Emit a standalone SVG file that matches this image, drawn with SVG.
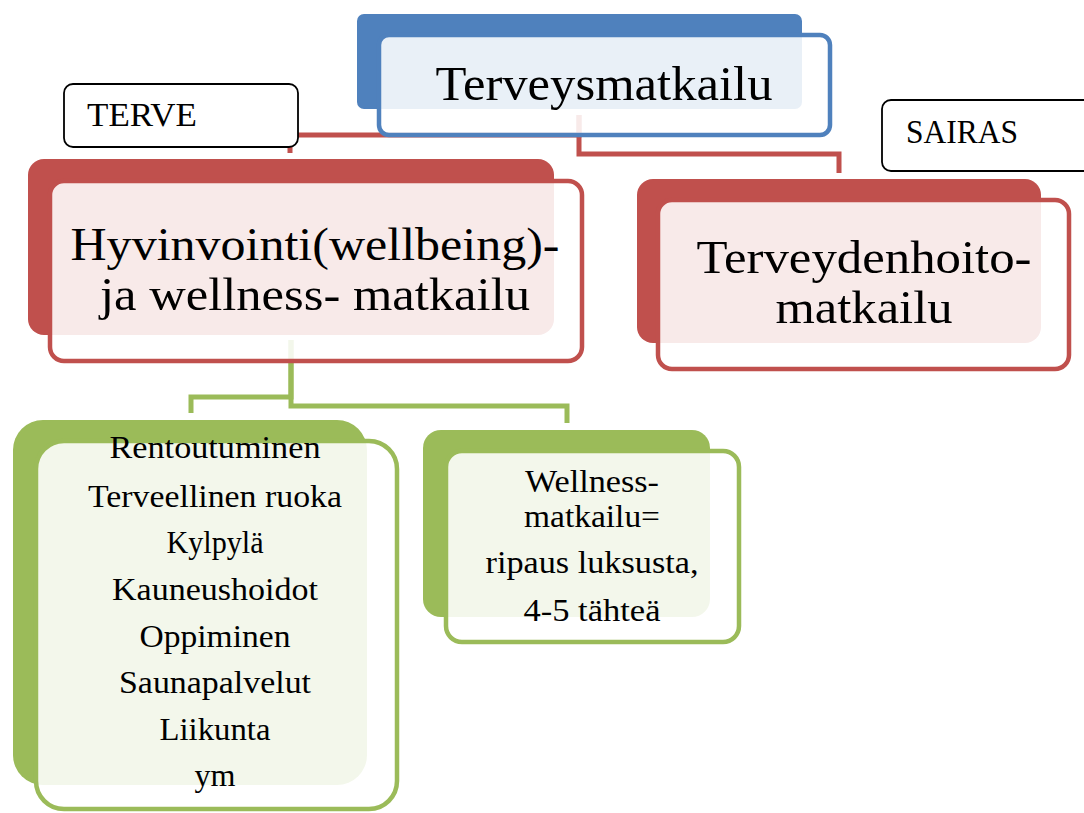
<svg xmlns="http://www.w3.org/2000/svg" width="1084" height="813" viewBox="0 0 1084 813">
<style>
text{font-family:"Liberation Serif","DejaVu Serif",serif;fill:#000;text-anchor:middle}
.cr{fill:none;stroke:#C0504D;stroke-width:5}
.cg{fill:none;stroke:#9BBB59;stroke-width:5}
.fr{fill:#fff;fill-opacity:0.88;stroke-width:4.5}
.lab{fill:#fff;stroke:#000;stroke-width:1.8}
.lt{text-anchor:start;font-size:33px}
</style>
<g id="connectors">
<path class="cr" d="M579,115 V135 H290 V153"/>
<path class="cr" d="M579,115 V154 H839 V173"/>
<path class="cg" d="M291,340 V397 H191 V413"/>
<path class="cg" d="M291,340 V406 H567 V423"/>
</g>
<g id="n-top">
<rect x="357" y="14" width="445" height="95" rx="7" fill="#4F81BD"/>
<rect class="fr" x="379" y="35" width="451" height="100" rx="10" stroke="#4F81BD"/>
<text x="604" y="100" font-size="48" textLength="337" lengthAdjust="spacingAndGlyphs">Terveysmatkailu</text>
</g>
<g id="n-terve">
<rect class="lab" x="64" y="84" width="234" height="63" rx="9"/>
<text class="lt" x="87" y="126" textLength="110" lengthAdjust="spacingAndGlyphs">TERVE</text>
</g>
<g id="n-sairas">
<rect class="lab" x="882" y="100" width="220" height="71" rx="9"/>
<text class="lt" x="906" y="143" textLength="112" lengthAdjust="spacingAndGlyphs">SAIRAS</text>
</g>
<g id="n-hyvinvointi">
<rect x="28" y="159" width="526" height="176" rx="16" fill="#C0504D"/>
<rect class="fr" x="50" y="181" width="532" height="180" rx="14" stroke="#C0504D"/>
<text x="315" y="260" font-size="46" textLength="489" lengthAdjust="spacingAndGlyphs">Hyvinvointi(wellbeing)-</text>
<text x="315" y="310" font-size="46" textLength="430" lengthAdjust="spacingAndGlyphs">ja wellness- matkailu</text>
</g>
<g id="n-terveydenhoito">
<rect x="637" y="179" width="404" height="164" rx="16" fill="#C0504D"/>
<rect class="fr" x="658" y="200" width="411" height="169" rx="14" stroke="#C0504D"/>
<text x="864" y="273" font-size="46" textLength="335" lengthAdjust="spacingAndGlyphs">Terveydenhoito-</text>
<text x="864" y="323" font-size="46" textLength="177" lengthAdjust="spacingAndGlyphs">matkailu</text>
</g>
<g id="n-list">
<rect x="13" y="420" width="354" height="365" rx="30" fill="#9BBB59"/>
<rect class="fr" x="36" y="441" width="361" height="368" rx="28" stroke="#9BBB59"/>
<g font-size="31">
<text x="215" y="458" textLength="211" lengthAdjust="spacingAndGlyphs">Rentoutuminen</text>
<text x="215" y="507" textLength="254" lengthAdjust="spacingAndGlyphs">Terveellinen ruoka</text>
<text x="215" y="553" textLength="97" lengthAdjust="spacingAndGlyphs">Kylpylä</text>
<text x="215" y="600" textLength="206" lengthAdjust="spacingAndGlyphs">Kauneushoidot</text>
<text x="215" y="647" textLength="151" lengthAdjust="spacingAndGlyphs">Oppiminen</text>
<text x="215" y="693" textLength="192" lengthAdjust="spacingAndGlyphs">Saunapalvelut</text>
<text x="215" y="740" textLength="111" lengthAdjust="spacingAndGlyphs">Liikunta</text>
<text x="215" y="786" textLength="41" lengthAdjust="spacingAndGlyphs">ym</text>
</g>
</g>
<g id="n-wellness">
<rect x="423" y="430" width="287" height="187" rx="18" fill="#9BBB59"/>
<rect class="fr" x="446" y="451" width="293" height="191" rx="16" stroke="#9BBB59"/>
<g font-size="31">
<text x="592" y="492" textLength="134" lengthAdjust="spacingAndGlyphs">Wellness-</text>
<text x="592" y="527" textLength="136" lengthAdjust="spacingAndGlyphs">matkailu=</text>
<text x="592" y="573" textLength="213" lengthAdjust="spacingAndGlyphs">ripaus luksusta,</text>
<text x="592" y="621" textLength="137" lengthAdjust="spacingAndGlyphs">4-5 tähteä</text>
</g>
</g>
</svg>
